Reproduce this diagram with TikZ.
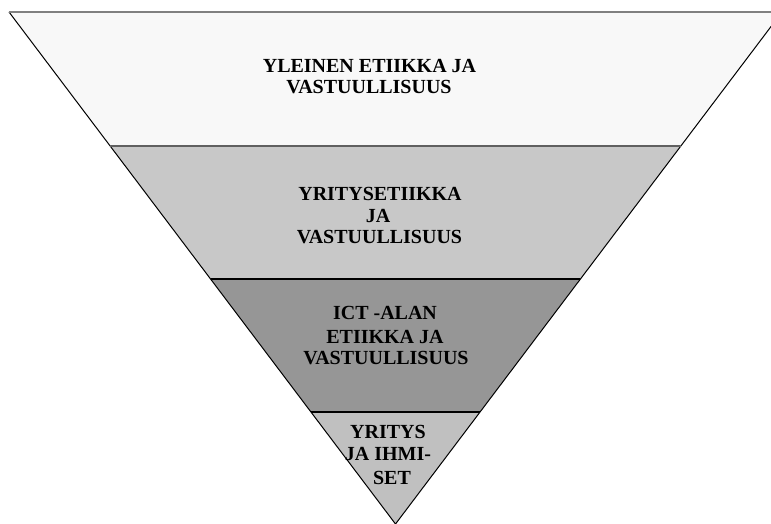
\documentclass[tikz,border=0pt]{standalone}
\usepackage{fontspec}
\setmainfont{Liberation Serif}
\usetikzlibrary{calc}
\definecolor{bandA}{HTML}{F8F8F8}
\definecolor{bandB}{HTML}{C8C8C8}
\definecolor{bandC}{HTML}{969696}
\definecolor{bandD}{HTML}{C0C0C0}
\tikzset{
  lbl/.style={anchor=base, inner sep=0pt, font=\fontsize{20}{21}\selectfont\bfseries, text=black},
  edge/.style={draw=black, line width=1pt},
}
\begin{document}
\begin{tikzpicture}[x=1pt,y=1pt]
\useasboundingbox (0,0) rectangle (771,-524);
\coordinate (A) at (9,-12);
\coordinate (B) at (782,-12);
\coordinate (C) at (395.5,-524);
\coordinate (L1) at ($(A)!0.2617!(C)$);
\coordinate (R1) at ($(B)!0.2617!(C)$);
\coordinate (L2) at ($(A)!0.5215!(C)$);
\coordinate (R2) at ($(B)!0.5215!(C)$);
\coordinate (L3) at ($(A)!0.78125!(C)$);
\coordinate (R3) at ($(B)!0.78125!(C)$);
% bands
\fill[bandA] (A) -- (B) -- (R1) -- (L1) -- cycle;
\fill[bandB] (L1) -- (R1) -- (R2) -- (L2) -- cycle;
\fill[bandC] (L2) -- (R2) -- (R3) -- (L3) -- cycle;
\fill[bandD] (L3) -- (R3) -- (C) -- cycle;
% outlines
\draw[edge] (A) -- (C) -- (B);
\draw[draw={rgb,255:red,128;green,128;blue,128}, line width=2pt] (A) -- (B);
\draw[draw={rgb,255:red,96;green,96;blue,96}, line width=1.8pt] (L1) -- (R1);
\draw[draw=black, line width=1.5pt] (L2) -- (R2);
\draw[draw=black, line width=1.5pt] (L3) -- (R3);
% texts
\node[lbl] (t1a) at (369.5,-73) {YLEINEN ETIIKKA JA};
\node[lbl] (t1b) at (369,-94) {VASTUULLISUUS};
\node[lbl] (t2a) at (380,-200) {YRITYSETIIKKA};
\node[lbl] (t2b) at (378,-222) {JA};
\node[lbl] (t2c) at (379.5,-243) {VASTUULLISUUS};
\node[lbl] (t3a) at (385,-319) {ICT -ALAN};
\node[lbl] (t3b) at (385,-343) {ETIIKKA JA};
\node[lbl] (t3c) at (386,-364) {VASTUULLISUUS};
\node[lbl] (t4a) at (388,-438) {YRITYS};
\node[lbl] (t4b) at (388,-460) {JA IHMI-};
\node[lbl] (t4c) at (392,-484) {SET};
\end{tikzpicture}
\end{document}
